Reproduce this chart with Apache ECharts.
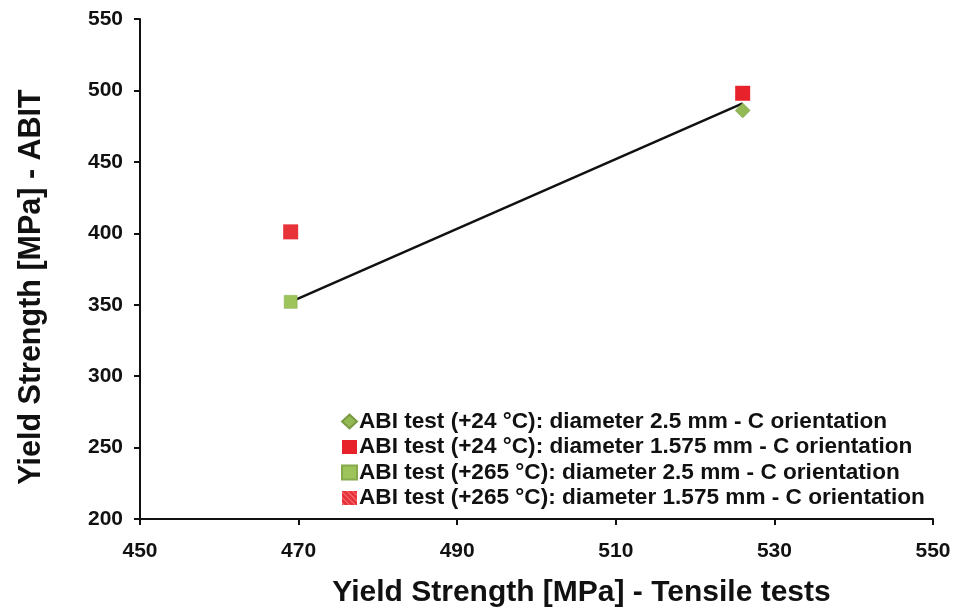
<!DOCTYPE html>
<html>
<head>
<meta charset="utf-8">
<script src="https://cdn.jsdelivr.net/npm/echarts@6/dist/echarts.min.js"></script>
<style>
html,body{margin:0;padding:0;background:#fff;}
#main{width:955px;height:608px;}
</style>
</head>
<body>
<div id="main"></div>
<script>
// series names (legend)
var names = [
	'ABI test (+24 °C): diameter 2.5 mm - C orientation',
	'ABI test (+24 °C): diameter 1.575 mm - C orientation',
	'ABI test (+265 °C): diameter 2.5 mm - C orientation',
	'ABI test (+265 °C): diameter 1.575 mm - C orientation'
];
// [tensile, ABIT]
var abi24_d25 = [[526, 486]];
var abi24_d1575 = [[526, 498]];
var abi265_d25 = [[469, 352]];
var abi265_d1575 = [[469, 401]];
// trend line end points
var trend = [[469, 352], [526, 491]];

var xTicks = [450, 550, 20];
var yTicks = [200, 550, 50];

var font = '"Liberation Sans", Arial, sans-serif';
var myChart = echarts.init(document.getElementById('main'));
var option = {
	backgroundColor: '#fff',
	animation: false,
	grid: {left: 140, right: 22, top: 19, bottom: 89, outerBoundsMode: 'none', containLabel: false},
	legend: {
		orient: 'vertical',
		left: 336,
		top: 405,
		itemWidth: 15,
		itemHeight: 14,
		itemGap: 2.5,
		data: names,
		textStyle: {fontFamily: font, fontWeight: 'bold', fontSize: 22.6, color: '#111', padding: [0, 0, 0, -3]}
	},
	xAxis: {
		type: 'value',
		min: xTicks[0], max: xTicks[1], interval: xTicks[2],
		name: 'Yield Strength [MPa] - Tensile tests',
		nameLocation: 'middle',
		nameGap: 59,
		nameTextStyle: {fontFamily: font, fontWeight: 'bold', fontSize: 30, color: '#111', padding: [0, 0, 0, 90]},
		axisLine: {lineStyle: {color: '#111', width: 2}},
		axisTick: {show: true, length: 6, lineStyle: {color: '#111', width: 2}},
		axisLabel: {fontFamily: font, fontWeight: 'bold', fontSize: 21, color: '#111', margin: 22},
		splitLine: {show: false}
	},
	yAxis: {
		type: 'value',
		min: yTicks[0], max: yTicks[1], interval: yTicks[2],
		name: 'Yield Strength [MPa] - ABIT',
		nameLocation: 'middle',
		nameGap: 93,
		nameTextStyle: {fontFamily: font, fontWeight: 'bold', fontSize: 30.5, color: '#111', padding: [0, 36, 0, 0]},
		axisLine: {show: true, lineStyle: {color: '#111', width: 2}},
		axisTick: {show: true, length: 6, lineStyle: {color: '#111', width: 2}},
		axisLabel: {fontFamily: font, fontWeight: 'bold', fontSize: 21, color: '#111', margin: 17},
		splitLine: {show: false}
	},
	series: [
		{
			name: 'trend',
			type: 'line',
			data: trend,
			symbol: 'none',
			lineStyle: {color: '#111', width: 2.5},
			z: 1
		},
		{
			name: names[0],
			type: 'scatter',
			data: abi24_d25,
			symbol: 'diamond',
			symbolSize: 15,
			itemStyle: {color: '#93b955', borderColor: '#7a9a44', borderWidth: 0.5, opacity: 1},
			z: 2
		},
		{
			name: names[1],
			type: 'scatter',
			data: abi24_d1575,
			symbol: 'rect',
			symbolSize: 15,
			itemStyle: {color: '#e8222a', opacity: 1},
			z: 3
		},
		{
			name: names[2],
			type: 'scatter',
			data: abi265_d25,
			symbol: 'rect',
			symbolSize: 13,
			itemStyle: {color: '#9cc45a', borderColor: '#86a94c', borderWidth: 0.5, opacity: 1},
			z: 2
		},
		{
			name: names[3],
			type: 'scatter',
			data: abi265_d1575,
			symbol: 'rect',
			symbolSize: 15,
			itemStyle: {
				color: '#e8323a',
				opacity: 1,
				decal: {symbol: 'rect', dashArrayX: [1, 0], dashArrayY: [1, 3], rotation: Math.PI / 4, color: 'rgba(255,160,160,0.6)'}
			},
			z: 2
		}
	]
};
myChart.setOption(option);
</script>
</body>
</html>
